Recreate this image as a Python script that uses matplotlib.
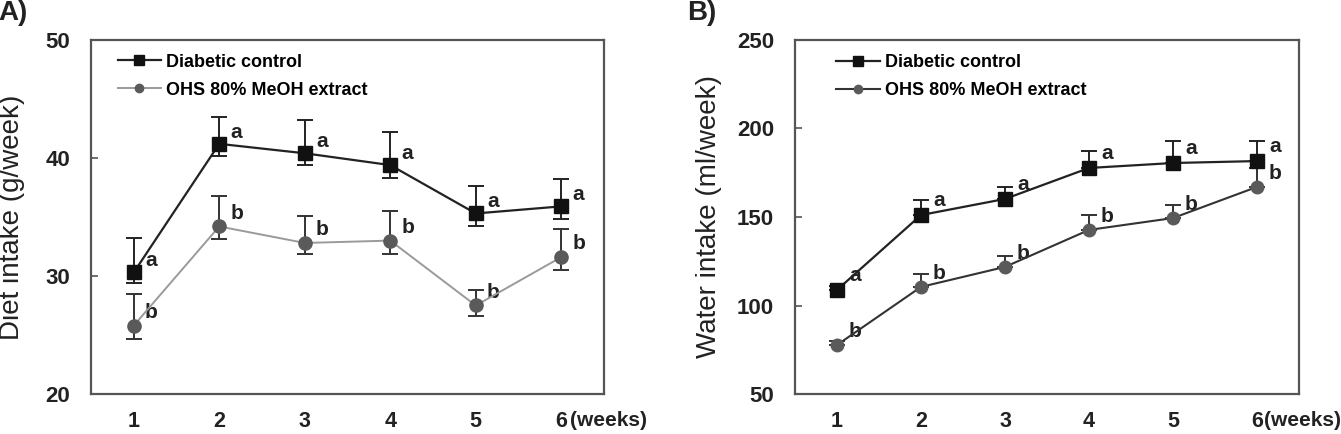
import matplotlib
matplotlib.use("Agg")
import matplotlib.pyplot as plt
from matplotlib.lines import Line2D

plt.rcParams['font.family'] = ['Liberation Sans', 'DejaVu Sans']

weeks = [1, 2, 3, 4, 5, 6]
week_labels = ['1', '2', '3', '4', '5', '6']

diet_dc = [30.3, 41.2, 40.4, 39.4, 35.3, 35.9]
diet_dc_up = [2.9, 2.3, 2.8, 2.8, 2.3, 2.3]
diet_dc_lo = [0.9, 1.0, 1.0, 1.1, 1.1, 1.1]
diet_ohs = [25.8, 34.2, 32.8, 33.0, 27.5, 31.6]
diet_ohs_up = [2.7, 2.6, 2.3, 2.5, 1.3, 2.4]
diet_ohs_lo = [1.1, 1.1, 0.9, 1.1, 0.9, 1.1]

water_dc = [108.8, 151.1, 160.2, 177.7, 180.5, 181.6]
water_dc_up = [2.0, 8.5, 6.8, 9.6, 12.5, 11.4]
water_ohs = [77.7, 110.5, 121.8, 142.7, 149.4, 167.0]
water_ohs_up = [2.0, 7.3, 6.2, 8.4, 7.4, 10.7]
zeros = [0, 0, 0, 0, 0, 0]

dc_letters = ['a'] * 6
ohs_letters = ['b'] * 6

series_names = ['Diabetic control', 'OHS 80% MeOH extract']

fig = plt.figure(figsize=(13.41, 4.34), dpi=100)
axA = fig.add_axes([91/1341, 1-394/434, 513/1341, 354/434])
axB = fig.add_axes([795/1341, 1-394/434, 504/1341, 354/434])

spine_col = '#555555'
txt_col = '#222222'

def style(ax, ylim, yticks, ylabel, labx, weeks_text, weeks_dx):
    ax.set_xlim(0.5, 6.5)
    ax.set_ylim(*ylim)
    ax.set_yticks(yticks)
    ax.set_yticklabels([str(t) for t in yticks], fontsize=16, fontweight='bold', color=txt_col)
    ax.set_xticks(weeks)
    ax.set_xticklabels(week_labels, fontsize=15.5, fontweight='bold', color=txt_col)
    ax.tick_params(axis='y', direction='in', length=5, width=1.2, color=spine_col, pad=15)
    ax.tick_params(axis='x', length=0, pad=12)
    for s in ax.spines.values():
        s.set_color(spine_col)
        s.set_linewidth(1.6)
    ax.set_ylabel(ylabel, fontsize=20, color=txt_col)
    ax.yaxis.set_label_coords(labx, 0.5)
    ax.annotate(weeks_text, xy=(6, 0), xycoords=('data', 'axes fraction'),
                xytext=(weeks_dx, -12), textcoords='offset points', ha='left', va='top',
                fontsize=15, fontweight='bold', color=txt_col)

# Panel A
axA.errorbar(weeks, diet_dc, yerr=[diet_dc_lo, diet_dc_up], color='#222222', lw=1.6,
             marker='s', ms=10, mfc='#111111', mec='#111111', ecolor='#222222',
             elinewidth=1.4, capsize=5.5, capthick=1.4, zorder=3)
axA.errorbar(weeks, diet_ohs, yerr=[diet_ohs_lo, diet_ohs_up], color='#9a9a9a', lw=1.4,
             marker='o', ms=9.5, mfc='#5a5a5a', mec='#5a5a5a', ecolor='#333333',
             elinewidth=1.4, capsize=5.5, capthick=1.4, zorder=3)
for x, y, t in zip(weeks, diet_dc, dc_letters):
    axA.annotate(t, xy=(x, y), xytext=(12.5, 8.5), textcoords='offset points',
                 ha='center', va='center', fontsize=15, fontweight='bold', color=txt_col)
for x, y, t in zip(weeks, diet_ohs, ohs_letters):
    axA.annotate(t, xy=(x, y), xytext=(12.5, 9.5), textcoords='offset points',
                 ha='center', va='center', fontsize=15, fontweight='bold', color=txt_col)
style(axA, (20, 50), [20, 30, 40, 50], 'Diet intake (g/week)', -0.129, '(weeks)', 6.5)

hA = [Line2D([], [], color='#222222', lw=1.6, marker='s', ms=7, mfc='#111111', mec='#111111'),
      Line2D([], [], color='#9a9a9a', lw=1.4, marker='o', ms=6, mfc='#5a5a5a', mec='#5a5a5a')]
axA.legend(hA, series_names, loc='upper left', bbox_to_anchor=(0.045, 0.972), frameon=False,
           prop={'size': 13, 'weight': 'bold'}, handlelength=2.4, handletextpad=0.3,
           labelspacing=0.62, borderpad=0.2, borderaxespad=0)

# Panel B
axB.errorbar(weeks, water_dc, yerr=[zeros, water_dc_up], color='#222222', lw=1.6,
             marker='s', ms=9.5, mfc='#111111', mec='#111111', ecolor='#222222',
             elinewidth=1.4, capsize=5.5, capthick=1.4, zorder=3)
axB.errorbar(weeks, water_ohs, yerr=[zeros, water_ohs_up], color='#333333', lw=1.5,
             marker='o', ms=9, mfc='#5a5a5a', mec='#5a5a5a', ecolor='#333333',
             elinewidth=1.4, capsize=5.5, capthick=1.4, zorder=3)
for x, y, t in zip(weeks, water_dc, dc_letters):
    axB.annotate(t, xy=(x, y), xytext=(13, 10.5), textcoords='offset points',
                 ha='center', va='center', fontsize=15, fontweight='bold', color=txt_col)
for x, y, t in zip(weeks, water_ohs, ohs_letters):
    axB.annotate(t, xy=(x, y), xytext=(13, 9.5), textcoords='offset points',
                 ha='center', va='center', fontsize=15, fontweight='bold', color=txt_col)
style(axB, (50, 250), [50, 100, 150, 200, 250], 'Water intake (ml/week)', -0.145, '(weeks)', 5)

hB = [Line2D([], [], color='#222222', lw=1.6, marker='s', ms=7, mfc='#111111', mec='#111111'),
      Line2D([], [], color='#333333', lw=1.5, marker='o', ms=6, mfc='#5a5a5a', mec='#5a5a5a')]
axB.legend(hB, series_names, loc='upper left', bbox_to_anchor=(0.075, 0.970), frameon=False,
           prop={'size': 13, 'weight': 'bold'}, handlelength=2.4, handletextpad=0.3,
           labelspacing=0.62, borderpad=0.2, borderaxespad=0)

fig.text(-2/1341, 1.0, 'A)', fontsize=20, fontweight='bold', color=txt_col, va='top', ha='left')
fig.text(687/1341, 1.0, 'B)', fontsize=20, fontweight='bold', color=txt_col, va='top', ha='left')

fig.savefig('out.png', dpi=100)
